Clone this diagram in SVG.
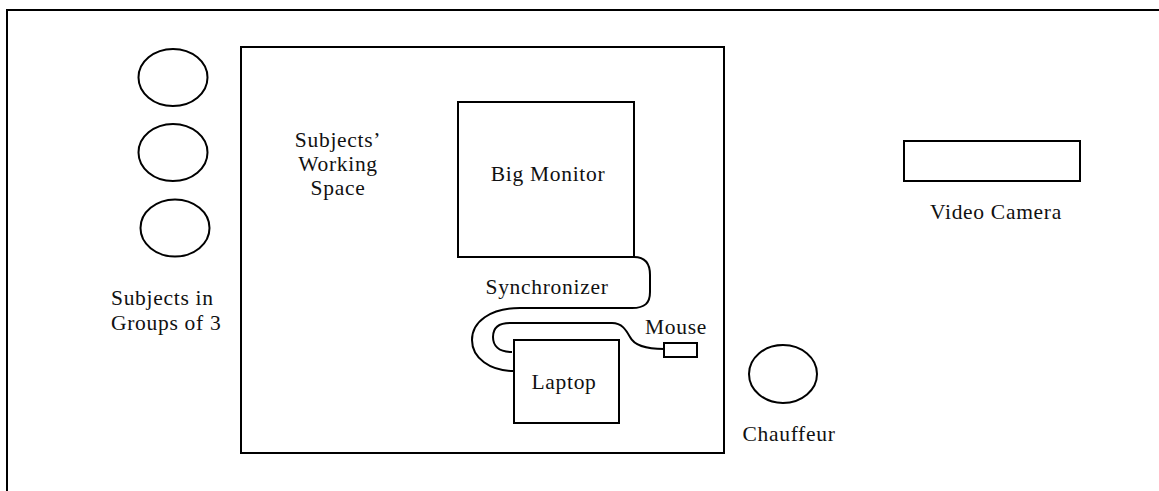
<svg xmlns="http://www.w3.org/2000/svg" width="1159" height="491" viewBox="0 0 1159 491">
<style>
.s{fill:none;stroke:#000;stroke-width:2}
.t{font-family:"Liberation Serif","Times New Roman",serif;font-size:21.5px;letter-spacing:0.7px;fill:#111}
.m{text-anchor:middle}
</style>
<rect width="1159" height="491" fill="#fff"/>
<g id="frame"><rect class="s" x="7" y="10" width="1170" height="500"/></g>
<g id="working-space">
<rect class="s" x="241" y="47" width="483" height="406"/>
<text class="t m" x="338" y="147">Subjects’</text>
<text class="t m" x="338" y="171">Working</text>
<text class="t m" x="338" y="195">Space</text>
</g>
<g id="subjects">
<ellipse class="s" cx="173" cy="77.5" rx="34.5" ry="28.5"/>
<ellipse class="s" cx="173" cy="152.5" rx="34.5" ry="28.5"/>
<ellipse class="s" cx="175" cy="228" rx="34.5" ry="28.5"/>
<text class="t" x="111" y="305">Subjects in</text>
<text class="t" x="111" y="330">Groups of 3</text>
</g>
<g id="big-monitor">
<rect class="s" x="458" y="102" width="176" height="155"/>
<text class="t m" x="548" y="181">Big Monitor</text>
</g>
<g id="laptop">
<rect class="s" x="514" y="340" width="105" height="83"/>
<text class="t m" x="564" y="389">Laptop</text>
</g>
<g id="mouse">
<rect class="s" x="664" y="343" width="33" height="14"/>
<text class="t" x="645" y="334">Mouse</text>
</g>
<g id="video-camera">
<rect class="s" x="904" y="141" width="176" height="40"/>
<text class="t m" x="996" y="219">Video Camera</text>
</g>
<g id="chauffeur">
<ellipse class="s" cx="783" cy="374" rx="34" ry="29"/>
<text class="t m" x="789" y="441">Chauffeur</text>
</g>
<g id="connectors">
<path class="s" d="M634 257 C645 257 650 263 650 275 L650 292 C650 303 645 308 632 308 L520 308 C490 308 472 322 472 340 C472 358 490 371 514 371"/>
<path class="s" d="M512 352 C498 352 493 345 493 337 C493 328 498 323 510 323 L612 323 C622 323 626 330 630 337 C634 345 645 349 664 349"/>
<text class="t m" x="547" y="294">Synchronizer</text>
</g>
</svg>
